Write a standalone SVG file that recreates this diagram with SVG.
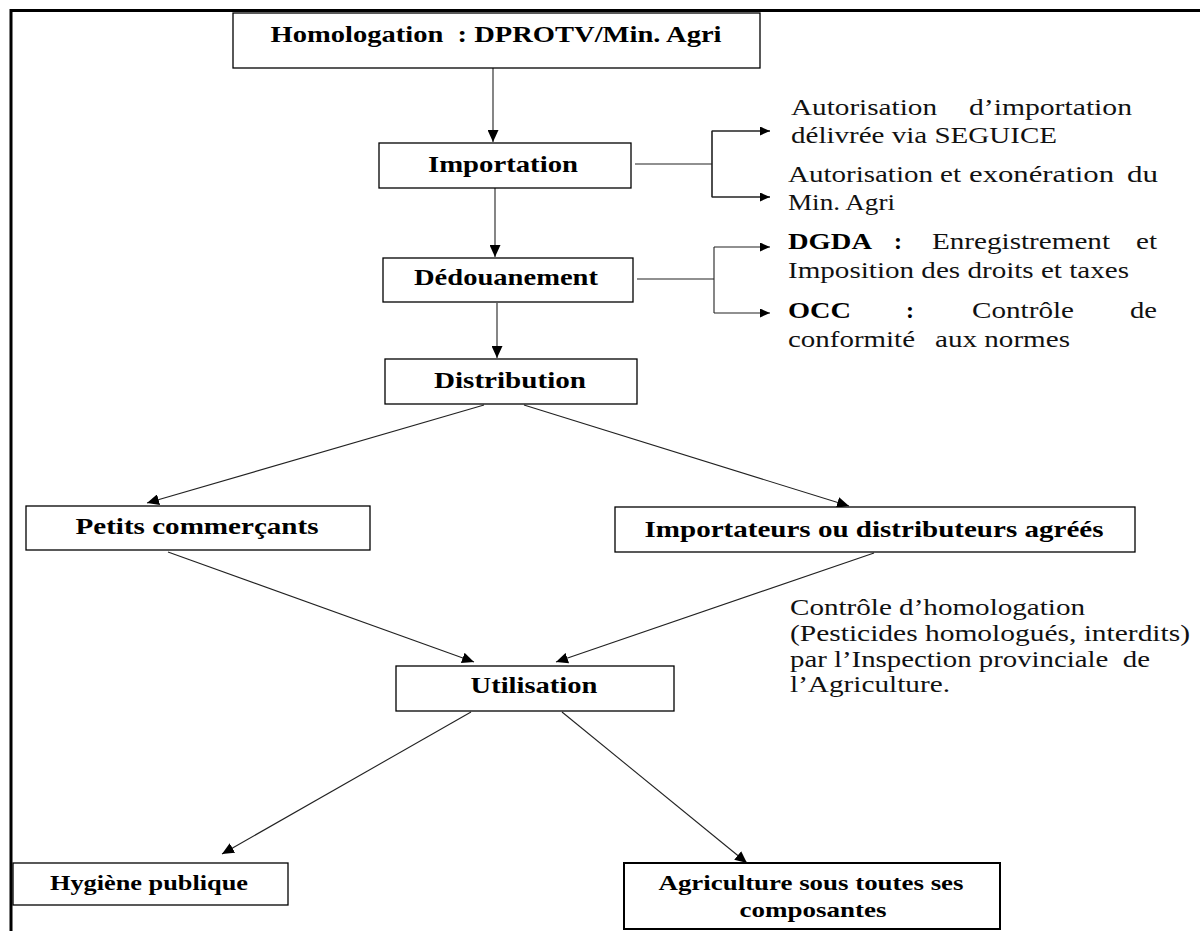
<svg xmlns="http://www.w3.org/2000/svg" width="1200" height="931" viewBox="0 0 1200 931">
<style>
.box{fill:#fff;stroke:#000;stroke-width:1.3}
.lbl{font-family:"Liberation Serif","Times New Roman",serif;font-weight:bold;font-size:24px;fill:#000}
.lbs{font-family:"Liberation Serif","Times New Roman",serif;font-weight:bold;font-size:22px;fill:#000}
.txt{font-family:"Liberation Serif","Times New Roman",serif;font-size:24px;fill:#111}
.tb{font-family:"Liberation Serif","Times New Roman",serif;font-size:24px;font-weight:bold;fill:#000}
.ln{fill:none;stroke:#222;stroke-width:1.1}
.frame{fill:none;stroke:#000;stroke-width:3}
</style>
<defs>
<marker id="ah" markerUnits="userSpaceOnUse" markerWidth="13" markerHeight="11" refX="12" refY="5.5" orient="auto" viewBox="0 0 13 11">
<path d="M0,0 L12,5.5 L0,11 z" fill="#000"/>
</marker>
<marker id="as" markerUnits="userSpaceOnUse" markerWidth="11" markerHeight="9" refX="10" refY="4.5" orient="auto" viewBox="0 0 11 9">
<path d="M0,0 L10,4.5 L0,9 z" fill="#000"/>
</marker>
</defs>
<rect width="1200" height="931" fill="#fff"/>
<g id="frame">
<path class="frame" d="M1200,10.5 L11,10.5 L11,931"/>
</g>
<g id="connectors">
<line class="ln" x1="493" y1="68" x2="493" y2="142" marker-end="url(#ah)"/>
<line class="ln" x1="495" y1="188" x2="495" y2="257" marker-end="url(#ah)"/>
<line class="ln" x1="497" y1="303" x2="497" y2="358" marker-end="url(#ah)"/>
<path class="ln" d="M635,164 L712,164"/>
<path class="ln" d="M770,131 L712,131 L712,197 L770,197" stroke="none"/>
<line class="ln" x1="712" y1="131" x2="712" y2="197"/>
<line class="ln" x1="712" y1="131" x2="770" y2="131" marker-end="url(#as)"/>
<line class="ln" x1="712" y1="197" x2="770" y2="197" marker-end="url(#as)"/>
<path class="ln" d="M637,279 L714,279"/>
<line class="ln" x1="714" y1="247" x2="714" y2="313"/>
<line class="ln" x1="714" y1="247" x2="770" y2="247" marker-end="url(#as)"/>
<line class="ln" x1="714" y1="313" x2="770" y2="313" marker-end="url(#as)"/>
<line class="ln" x1="484" y1="405" x2="147" y2="503" marker-end="url(#ah)"/>
<line class="ln" x1="524" y1="405" x2="849" y2="506" marker-end="url(#ah)"/>
<line class="ln" x1="168" y1="552" x2="474" y2="662" marker-end="url(#ah)"/>
<line class="ln" x1="874" y1="553" x2="556" y2="662" marker-end="url(#ah)"/>
<line class="ln" x1="471" y1="712" x2="222" y2="854" marker-end="url(#ah)"/>
<line class="ln" x1="562" y1="712" x2="747" y2="863" marker-end="url(#ah)"/>
</g>
<g id="homologation">
<rect class="box" x="233" y="13" width="527" height="55"/>
<text class="lbl" x="496" y="42" text-anchor="middle" textLength="451" lengthAdjust="spacingAndGlyphs" xml:space="preserve">Homologation  : DPROTV/Min. Agri</text>
</g>
<g id="importation">
<rect class="box" x="379" y="143" width="252" height="45"/>
<text class="lbl" x="503" y="172" text-anchor="middle" textLength="150" lengthAdjust="spacingAndGlyphs">Importation</text>
</g>
<g id="dedouanement">
<rect class="box" x="383" y="258" width="250" height="44"/>
<text class="lbl" x="506" y="285" text-anchor="middle" textLength="184" lengthAdjust="spacingAndGlyphs">Dédouanement</text>
</g>
<g id="distribution">
<rect class="box" x="385" y="359" width="252" height="45"/>
<text class="lbl" x="510" y="388" text-anchor="middle" textLength="152" lengthAdjust="spacingAndGlyphs">Distribution</text>
</g>
<g id="petits-commercants">
<rect class="box" x="26" y="506" width="344" height="44"/>
<text class="lbl" x="197" y="534" text-anchor="middle" textLength="243" lengthAdjust="spacingAndGlyphs">Petits commerçants</text>
</g>
<g id="importateurs">
<rect class="box" x="615" y="507" width="520" height="45"/>
<text class="lbl" x="874" y="537" text-anchor="middle" textLength="459" lengthAdjust="spacingAndGlyphs">Importateurs ou distributeurs agréés</text>
</g>
<g id="utilisation">
<rect class="box" x="396" y="666" width="278" height="45"/>
<text class="lbl" x="534" y="693" text-anchor="middle" textLength="127" lengthAdjust="spacingAndGlyphs">Utilisation</text>
</g>
<g id="hygiene">
<rect class="box" x="13" y="863" width="275" height="42"/>
<text class="lbs" x="149" y="890" text-anchor="middle" textLength="198" lengthAdjust="spacingAndGlyphs">Hygiène publique</text>
</g>
<g id="agriculture">
<rect class="box" x="624" y="863" width="376" height="66" style="stroke-width:2"/>
<text class="lbs" x="811" y="890" text-anchor="middle" textLength="305" lengthAdjust="spacingAndGlyphs">Agriculture sous toutes ses</text>
<text class="lbs" x="813" y="917" text-anchor="middle" textLength="147" lengthAdjust="spacingAndGlyphs">composantes</text>
</g>
<g id="note-importation">
<text class="txt" x="791" y="115" textLength="146" lengthAdjust="spacingAndGlyphs">Autorisation</text>
<text class="txt" x="969" y="115" textLength="163" lengthAdjust="spacingAndGlyphs">d’importation</text>
<text class="txt" x="791" y="143" textLength="266" lengthAdjust="spacingAndGlyphs">délivrée via SEGUICE</text>
<text class="txt" x="788" y="182" textLength="145" lengthAdjust="spacingAndGlyphs">Autorisation</text>
<text class="txt" x="940" y="182" textLength="21" lengthAdjust="spacingAndGlyphs">et</text>
<text class="txt" x="969" y="182" textLength="145" lengthAdjust="spacingAndGlyphs">exonération</text>
<text class="txt" x="1127" y="182" textLength="31" lengthAdjust="spacingAndGlyphs">du</text>
<text class="txt" x="788" y="210" textLength="107" lengthAdjust="spacingAndGlyphs">Min. Agri</text>
</g>
<g id="note-dedouanement">
<text class="tb" x="788" y="249" textLength="84" lengthAdjust="spacingAndGlyphs">DGDA</text>
<text class="tb" x="894" y="249">:</text>
<text class="txt" x="932" y="249" textLength="178" lengthAdjust="spacingAndGlyphs">Enregistrement</text>
<text class="txt" x="1136" y="249" textLength="21" lengthAdjust="spacingAndGlyphs">et</text>
<text class="txt" x="788" y="278" textLength="341" lengthAdjust="spacingAndGlyphs">Imposition des droits et taxes</text>
<text class="tb" x="788" y="318" textLength="63" lengthAdjust="spacingAndGlyphs">OCC</text>
<text class="tb" x="906" y="318">:</text>
<text class="txt" x="972" y="318" textLength="102" lengthAdjust="spacingAndGlyphs">Contrôle</text>
<text class="txt" x="1130" y="318" textLength="27" lengthAdjust="spacingAndGlyphs">de</text>
<text class="txt" x="788" y="347" textLength="127" lengthAdjust="spacingAndGlyphs">conformité</text>
<text class="txt" x="935" y="347" textLength="135" lengthAdjust="spacingAndGlyphs">aux normes</text>
</g>
<g id="note-controle">
<text class="txt" x="790" y="615" textLength="295" lengthAdjust="spacingAndGlyphs">Contrôle d’homologation</text>
<text class="txt" x="790" y="641" textLength="400" lengthAdjust="spacingAndGlyphs">(Pesticides homologués, interdits)</text>
<text class="txt" x="790" y="667" textLength="360" lengthAdjust="spacingAndGlyphs" xml:space="preserve">par l’Inspection provinciale  de</text>
<text class="txt" x="790" y="692" textLength="160" lengthAdjust="spacingAndGlyphs">l’Agriculture.</text>
</g>
</svg>
